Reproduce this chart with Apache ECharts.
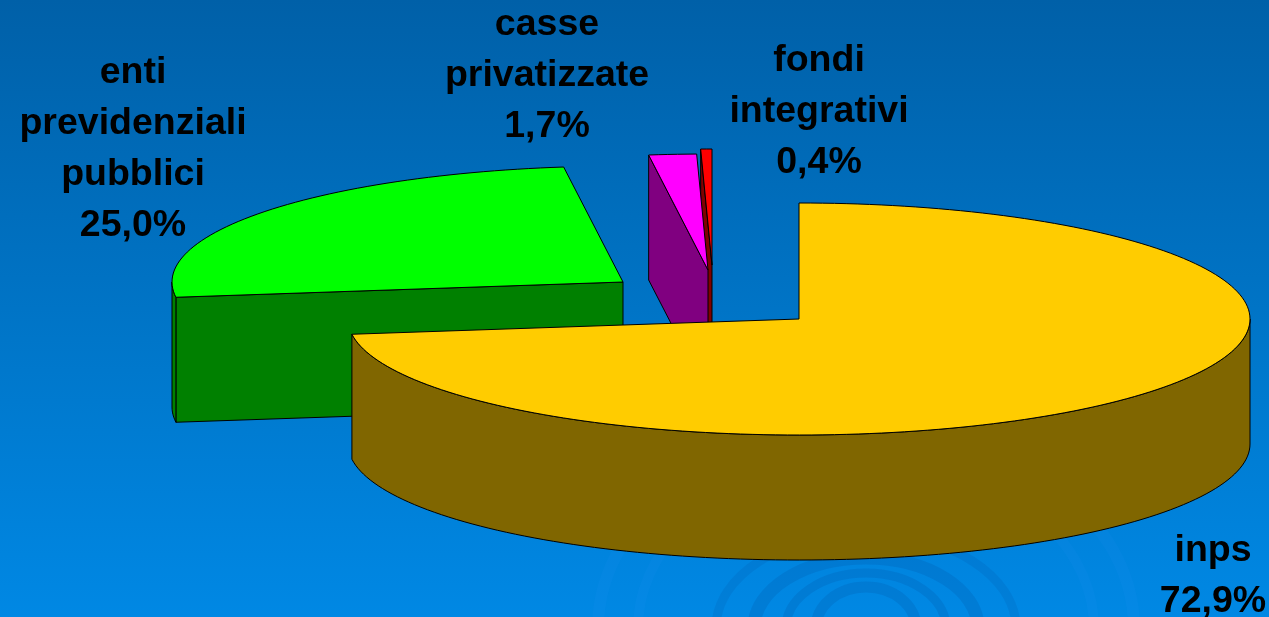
<!DOCTYPE html>
<html>
<head>
<meta charset="utf-8">
<title>Previdenza</title>
<script src="https://cdn.jsdelivr.net/npm/echarts@6/dist/echarts.min.js"></script>
<style>
  html, body { margin: 0; padding: 0; overflow: hidden; }
  #chart { width: 1269px; height: 617px; }
</style>
</head>
<body>
<div id="chart"></div>
<script>
// data (clockwise from 12 o'clock)
const names = ['inps', 'enti\nprevidenziali\npubblici', 'casse\nprivatizzate', 'fondi\nintegrativi']
const shares = [72.9, 25.0, 1.7, 0.4]

// slice look and layout
const topColors = ['#ffcc00', '#00ff00', '#ff00ff', '#ff0000']
const sideColors = ['#806600', '#008000', '#800080', '#800000']
const sliceCenters = [[799, 319], [623, 282], [708, 270], [712, 265]]
const labelCenters = [[1213, 551], [133, 73], [547, 25], [819, 61]]
const paintOrder = [1, 3, 2, 0] // back slices first, inps sits on top of them
const radiusX = 451
const radiusY = 116
const depth = 125
const lineHeight = 51

const total = shares.reduce((a, b) => a + b, 0)
const startAngles = shares.map((_, i) =>
  shares.slice(0, i).reduce((a, b) => a + b, 0) / total * 360)

function rimPoint(center, deg, drop) {
  const rad = deg * Math.PI / 180
  return [
    center[0] + radiusX * Math.sin(rad),
    center[1] - radiusY * Math.cos(rad) + drop
  ]
}

function arc(center, from, to, drop) {
  const steps = Math.max(2, Math.ceil((to - from) / 1.5))
  const pts = []
  for (let s = 0; s <= steps; s++) {
    pts.push(rimPoint(center, from + (to - from) * s / steps, drop))
  }
  return pts
}

function below(p) {
  return [p[0], p[1] + depth]
}

function renderSlice(params, api) {
  const i = api.value(0)
  const center = sliceCenters[i]
  const from = startAngles[i]
  const to = from + api.value(1) / total * 360
  const side = { fill: sideColors[i], stroke: '#000', lineWidth: 1 }
  const children = []

  const addSide = points => children.push({
    type: 'polygon', shape: { points }, style: side, silent: true
  })

  // cut faces that turn towards the viewer
  if (Math.sin(from * Math.PI / 180) < 0) {
    const p = rimPoint(center, from, 0)
    addSide([center, p, below(p), below(center)])
  }
  if (Math.sin(to * Math.PI / 180) > 0) {
    const p = rimPoint(center, to, 0)
    addSide([center, p, below(p), below(center)])
  }
  // outer wall, only the front half of the rim shows
  const wallFrom = Math.max(from, 90)
  const wallTo = Math.min(to, 270)
  if (wallTo > wallFrom) {
    addSide(arc(center, wallFrom, wallTo, 0).concat(arc(center, wallFrom, wallTo, depth).reverse()))
  }
  // top face
  children.push({
    type: 'polygon',
    shape: { points: [center].concat(arc(center, from, to, 0)) },
    style: { fill: topColors[i], stroke: '#000', lineWidth: 1 },
    silent: true
  })
  // label
  const percent = api.value(1).toFixed(1).replace('.', ',') + '%'
  children.push({
    type: 'text',
    z2: 100,
    silent: true,
    style: {
      text: names[i] + '\n' + percent,
      x: labelCenters[i][0],
      y: labelCenters[i][1] - lineHeight / 2,
      align: 'center',
      verticalAlign: 'top',
      fill: '#000',
      font: 'bold 37.5px "Liberation Sans", Arial, sans-serif',
      lineHeight: lineHeight
    }
  })
  return { type: 'group', children }
}

// faint ripple from the slide template, bottom of the page
const ripples = [
  { rx: 50, ry: 41, w: 11, c: 'rgba(0,80,160,0.2)' },
  { rx: 80, ry: 55, w: 9, c: 'rgba(0,80,160,0.2)' },
  { rx: 112, ry: 70, w: 13, c: 'rgba(0,80,160,0.2)' },
  { rx: 150, ry: 95, w: 9, c: 'rgba(0,80,160,0.16)' },
  { rx: 228, ry: 170, w: 10, c: 'rgba(60,160,255,0.07)' },
  { rx: 268, ry: 200, w: 12, c: 'rgba(60,160,255,0.07)' }
]

const chart = echarts.init(document.getElementById('chart'))
chart.setOption({
  animation: false,
  backgroundColor: {
    type: 'linear', x: 0, y: 0, x2: 0, y2: 1,
    colorStops: [
      { offset: 0, color: '#0060a8' },
      { offset: 1, color: '#0088e4' }
    ]
  },
  graphic: ripples.map(d => ({
    type: 'ellipse',
    silent: true,
    z: 0,
    shape: { cx: 866, cy: 628, rx: d.rx, ry: d.ry },
    style: { fill: 'none', stroke: d.c, lineWidth: d.w }
  })),
  series: [{
    type: 'custom',
    coordinateSystem: 'none',
    z: 2,
    renderItem: renderSlice,
    encode: { value: 1 },
    data: paintOrder.map(i => [i, shares[i]])
  }]
})
</script>
</body>
</html>
